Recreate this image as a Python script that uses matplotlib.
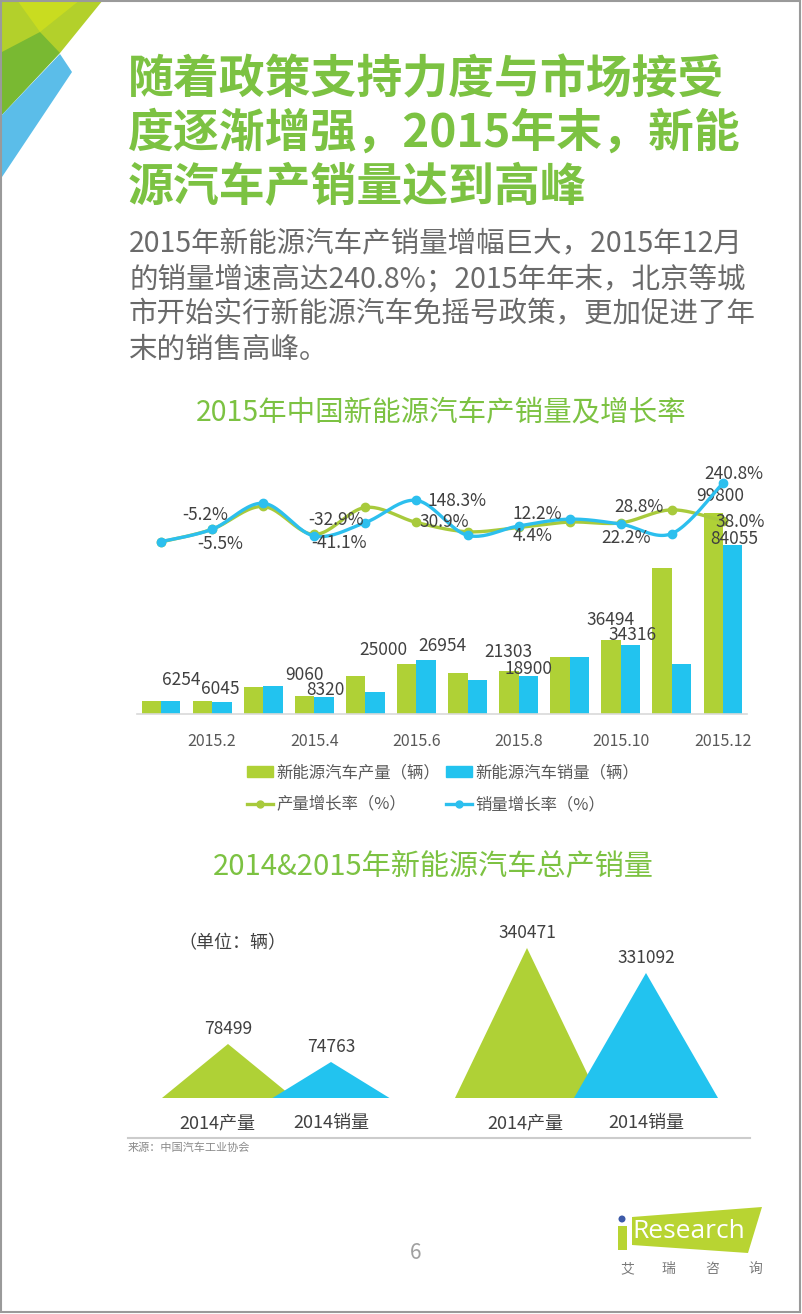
import numpy as np
import matplotlib
matplotlib.use("Agg")
import matplotlib.pyplot as plt
from matplotlib.patches import Polygon, Rectangle, Circle
from matplotlib.lines import Line2D

plt.rcParams['font.family'] = ['Noto Sans CJK SC', 'DejaVu Sans']

# ---- data ----
months = np.arange(1, 13)
tick_months = [2, 4, 6, 8, 10, 12]
tick_labels = ['2015.2', '2015.4', '2015.6', '2015.8', '2015.10', '2015.12']
production = [6600, 6254, 13500, 9060, 19100, 25000, 20400, 21303, 28300, 36494, 72300, 99800]
sales = [6400, 6045, 14100, 8320, 10850, 26954, 16850, 18900, 28100, 34316, 24650, 84055]
prod_growth = [-73.0, -5.2, 115.9, -32.9, 110.8, 30.9, -18.4, 4.4, 33.0, 28.8, 98.2, 38.0]
sales_growth = [-71.0, -5.5, 133.0, -41.1, 30.4, 148.3, -37.5, 12.2, 48.7, 22.2, -28.1, 240.8]

total_labels = ['2014产量', '2014销量']
totals_2014 = [78499, 74763]
totals_2015 = [340471, 331092]

# which points carry value labels, with label offsets in pixels (dx, dy up)
prod_bar_labels = {2: (-21, 21), 4: (0, 21), 6: (-23, 14), 8: (-1, 19), 10: (-1, 20), 12: (7, 17)}
sales_bar_labels = {2: (-2, 13), 4: (1, 7), 6: (16, 14), 8: (0, 7), 10: (2, 10), 12: (2, 6)}
prod_rate_labels = {2: (-7, 14), 4: (22, 14), 6: (28, 0), 8: (14, -9), 10: (18, 16), 12: (17, -1)}
sales_rate_labels = {2: (8, -15), 4: (25, -7), 6: (41, -1), 8: (19, 12), 10: (5, -14), 12: (11, 9)}

GREEN_BAR = '#afd136'
BLUE_BAR = '#22c3ef'
GREEN_LINE = '#a8ca3c'
BLUE_LINE = '#2cbfee'
TITLE_GREEN = '#7cc242'
TEXT_DARK = '#404040'

W, H = 802, 1314
fig = plt.figure(figsize=(W / 100, H / 100), dpi=100)


def px_rect(x0, y0, x1, y1):
    return [x0 / W, 1 - y1 / H, (x1 - x0) / W, (y1 - y0) / H]


def smooth(xs, ys, n=24):
    """Catmull-Rom curve through the points, for drawing only."""
    xs = np.asarray(xs, float)
    ys = np.asarray(ys, float)
    px = np.concatenate([[xs[0]], xs, [xs[-1]]])
    py = np.concatenate([[ys[0]], ys, [ys[-1]]])
    outx, outy = [], []
    t = np.linspace(0, 1, n)
    for i in range(1, len(px) - 2):
        for arr, out in ((px, outx), (py, outy)):
            p0, p1, p2, p3 = arr[i - 1], arr[i], arr[i + 1], arr[i + 2]
            out.extend(0.5 * ((2 * p1) + (-p0 + p2) * t +
                              (2 * p0 - 5 * p1 + 4 * p2 - p3) * t ** 2 +
                              (-p0 + 3 * p1 - 3 * p2 + p3) * t ** 3))
    return outx, outy


# ---- background page ----
bg = fig.add_axes([0, 0, 1, 1])
bg.set_xlim(0, W)
bg.set_ylim(H, 0)
bg.axis('off')

bg.add_patch(Polygon([(0, 0), (103, 0), (60, 53), (0, 53)], closed=True, color='#b3d02b', lw=0))
bg.add_patch(Polygon([(17, 0), (80, 0), (40, 32)], closed=True, color='#c9dc20', lw=0))
bg.add_patch(Polygon([(0, 53), (40, 32), (60, 53), (0, 117)], closed=True, color='#79b932', lw=0))
bg.add_patch(Polygon([(0, 117), (60, 54), (72, 72), (0, 180)], closed=True, color='#5bbde9', lw=0))
bg.add_patch(Rectangle((1, 1), W - 3, H - 3, fill=False, ec='#9a9a9a', lw=1.5))

title_lines = ['随着政策支持力度与市场接受', '度逐渐增强，2015年末，新能', '源汽车产销量达到高峰']
for i, line in enumerate(title_lines):
    bg.text(128, 80 + 54 * i, line, fontsize=33, fontweight='bold', color=TITLE_GREEN,
            ha='left', va='center')

body_lines = ['2015年新能源汽车产销量增幅巨大，2015年12月',
              '的销量增速高达240.8%；2015年年末，北京等城',
              '市开始实行新能源汽车免摇号政策，更加促进了年',
              '末的销售高峰。']
for i, line in enumerate(body_lines):
    bg.text(129, 244 + 35.2 * i, line, fontsize=20.5, color='#6a6a6a', ha='left', va='center')

bg.text(441, 412, '2015年中国新能源汽车产销量及增长率', fontsize=20.5, color=TITLE_GREEN,
        ha='center', va='center')
bg.text(433, 866, '2014&2015年新能源汽车总产销量', fontsize=21, color=TITLE_GREEN,
        ha='center', va='center')

# ---- monthly bar + growth chart ----
ax = fig.add_axes(px_rect(137, 470, 747, 714))
ax.bar(months - 0.19, production, width=0.38, color=GREEN_BAR, zorder=2)
ax.bar(months + 0.19, sales, width=0.38, color=BLUE_BAR, zorder=2)
ax.set_xlim(0.53, 12.47)
ax.set_ylim(0, 121150)
for s in ['top', 'right', 'left']:
    ax.spines[s].set_visible(False)
ax.spines['bottom'].set_color('#d9d9d9')
ax.spines['bottom'].set_linewidth(1.2)
ax.set_yticks([])
ax.set_xticks(tick_months)
ax.set_xticklabels(tick_labels)
ax.tick_params(axis='x', length=0, pad=13.5, labelsize=11.5, labelcolor='#595959')
ax.patch.set_alpha(0)

for m, (dx, dy) in prod_bar_labels.items():
    v = production[m - 1]
    ax.annotate(f'{v}', xy=(m - 0.19, v), xytext=(dx * 0.72, dy * 0.72), textcoords='offset points',
                ha='center', va='center', fontsize=12.5, color=TEXT_DARK, zorder=5)
for m, (dx, dy) in sales_bar_labels.items():
    v = sales[m - 1]
    ax.annotate(f'{v}', xy=(m + 0.19, v), xytext=(dx * 0.72, dy * 0.72), textcoords='offset points',
                ha='center', va='center', fontsize=12.5, color=TEXT_DARK, zorder=5)

ax2 = ax.twinx()
ax2.set_ylim(-988, 310)
ax2.axis('off')
sx, sy = smooth(months, prod_growth)
ax2.plot(sx, sy, color=GREEN_LINE, lw=2.4, solid_capstyle='round', zorder=3)
ax2.plot(months, prod_growth, 'o', color=GREEN_LINE, ms=6, zorder=3)
sx, sy = smooth(months, sales_growth)
ax2.plot(sx, sy, color=BLUE_LINE, lw=2.4, solid_capstyle='round', zorder=4)
ax2.plot(months, sales_growth, 'o', color=BLUE_LINE, ms=6, zorder=4)

for m, (dx, dy) in prod_rate_labels.items():
    v = prod_growth[m - 1]
    ax2.annotate(f'{v:.1f}%', xy=(m, v), xytext=(dx * 0.72, dy * 0.72), textcoords='offset points',
                 ha='center', va='center', fontsize=12.5, color=TEXT_DARK, zorder=6)
for m, (dx, dy) in sales_rate_labels.items():
    v = sales_growth[m - 1]
    ax2.annotate(f'{v:.1f}%', xy=(m, v), xytext=(dx * 0.72, dy * 0.72), textcoords='offset points',
                 ha='center', va='center', fontsize=12.5, color=TEXT_DARK, zorder=6)

handles = [Rectangle((0, 0), 1, 1, color=GREEN_BAR),
           Line2D([], [], color=GREEN_LINE, lw=2.4, marker='o', ms=5),
           Rectangle((0, 0), 1, 1, color=BLUE_BAR),
           Line2D([], [], color=BLUE_LINE, lw=2.4, marker='o', ms=5)]
labels = ['新能源汽车产量（辆）', '产量增长率（%）', '新能源汽车销量（辆）', '销量增长率（%）']
leg = fig.legend(handles, labels, ncol=2, loc='upper left', bbox_to_anchor=(247 / W, 1 - 764 / H),
                 frameon=False, fontsize=11.8, handlelength=1.6, handletextpad=0.2,
                 columnspacing=0.35, labelspacing=0.95, borderpad=0, borderaxespad=0)
for t in leg.get_texts():
    t.set_color('#595959')

# ---- 2014 / 2015 totals ----
bg.text(232, 943, '（单位：辆）', fontsize=13, color='#404040', ha='center', va='center')

tri_floor_2014 = 67290
tri_floor_2015 = 284200
tri_scale_2014 = 0.004818   # px per vehicle
tri_scale_2015 = 0.002666
panel_top, panel_base = 920, 1098
panels = [
    (totals_2014, tri_floor_2014, tri_scale_2014, [(228, 66), (331, 58.5)], [217, 331]),
    (totals_2015, tri_floor_2015, tri_scale_2015, [(527, 72), (646, 72)], [525, 646]),
]
for vals, floor, scale, shapes, label_x in panels:
    axt = fig.add_axes(px_rect(0, panel_top, W, panel_base))
    axt.set_xlim(0, W)
    axt.set_ylim(floor, floor + (panel_base - panel_top) / scale)
    axt.axis('off')
    for v, (cx, hw), col in zip(vals, shapes, [GREEN_BAR, BLUE_BAR]):
        axt.fill([cx - hw, cx, cx + hw], [floor, v, floor], color=col, lw=0)
        axt.annotate(f'{v}', xy=(cx, v), xytext=(0, 11), textcoords='offset points',
                     ha='center', va='center', fontsize=12.5, color=TEXT_DARK)
    for lx, lab in zip(label_x, total_labels):
        bg.text(lx, 1123, lab, fontsize=13, color='#404040', ha='center', va='center')

bg.plot([128, 750], [1138, 1138], color='#cccccc', lw=1.5)
bg.text(128, 1148, '来源：中国汽车工业协会', fontsize=8, color='#8a8a8a', ha='left', va='center')

# ---- footer ----
bg.text(416, 1253, '6', fontsize=15, color='#a0a0a0', ha='center', va='center')
bg.add_patch(Polygon([(632, 1217), (762, 1207), (748, 1253), (632, 1245)], closed=True,
                     color='#b8d432', lw=0))
bg.add_patch(Polygon([(618, 1226), (627, 1226), (627, 1250), (618, 1250)], closed=True,
                     color='#b8d432', lw=0))
bg.add_patch(Circle((622, 1219), 3.5, color='#3d5aa8', lw=0))
bg.text(632, 1232, 'Research', fontsize=19, color='white', ha='left', va='center',
        family=['Open Sans', 'DejaVu Sans'])
for ch, x in zip('艾瑞咨询', [627, 668, 712, 755]):
    bg.text(x, 1269, ch, fontsize=10, color='#7a7a7a', ha='center', va='center')

fig.savefig('out.png', dpi=100)
